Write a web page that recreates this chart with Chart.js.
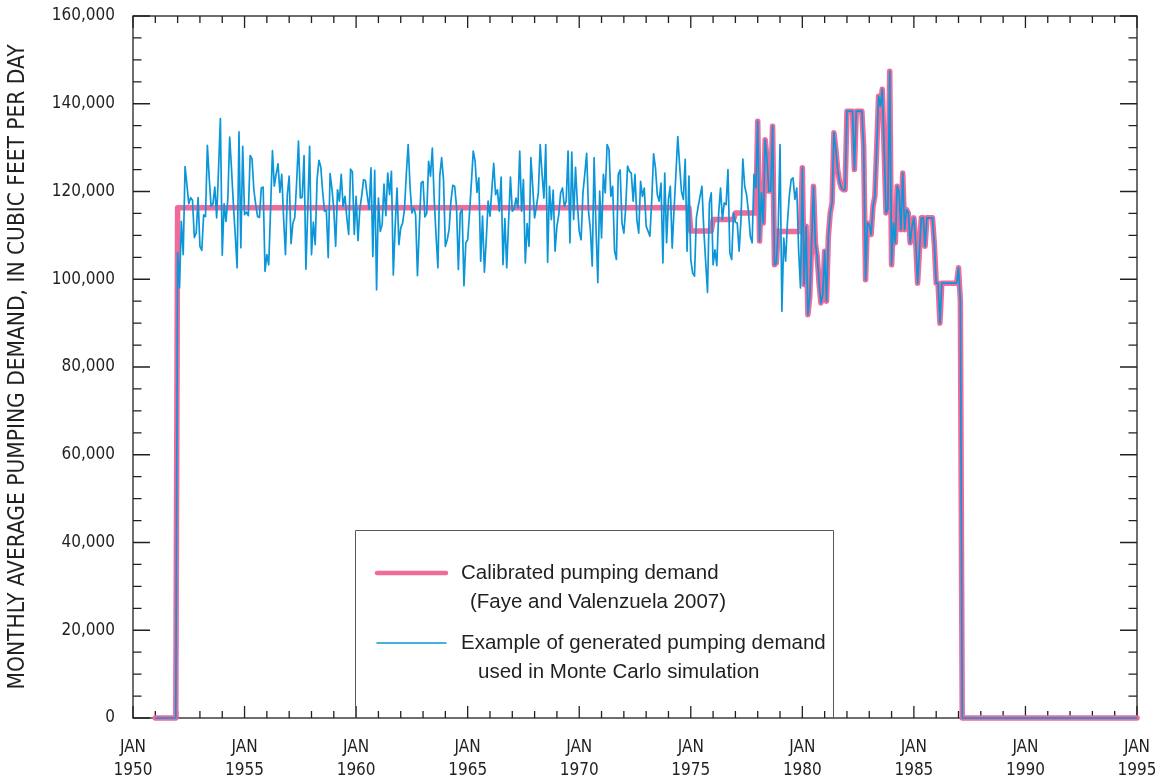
<!DOCTYPE html>
<html>
<head>
<meta charset="utf-8">
<script src="https://cdn.jsdelivr.net/npm/chart.js@4.4.1/dist/chart.umd.min.js"></script>
<style>
  html, body { margin: 0; padding: 0; background: #ffffff; }
  #wrap { width: 1155px; height: 779px; }
</style>
</head>
<body>
<div id="wrap"><canvas id="c" width="1155" height="779"></canvas></div>
<script>
// ---------------- DATA ----------------
const X_MIN = 1950, X_MAX = 1995;           // Jan 1950 .. Jan 1995
const Y_MIN = 0, Y_MAX = 160000;
const xTickYears = [1950, 1955, 1960, 1965, 1970, 1975, 1980, 1985, 1990, 1995];
const xTickMonth = 'JAN';
const SERIES_START = 1951;                   // first monthly value: Jan 1951

// Calibrated pumping demand: constant runs [value, number of months], Jan 1951 .. Dec 1977
const calibratedRunsBefore1978 = [[0, 12], [116300, 276], [111000, 12], [113600, 12], [115100, 12]];
// Calibrated monthly values 1978 (the generated series follows it this year)
const calibrated1978 = [136000, 108700, 119700, 112800, 131800, 127300, 120100, 120100, 134900, 103300, 103700, 111000];
// Calibrated 1979: constant run
const calibratedRun1979 = [110900, 12];
// Jan 1980 .. Feb 1987: both series identical
const shared1980to1987 = [
  125400, 98800, 112100, 91900, 96100, 108300, 121200, 108300, 105200, 99100, 94600, 96500,
  106400, 95000, 109800, 115100, 117400, 133400, 129600, 125000, 122300, 120800, 120400, 120400,
  138300, 138300, 138300, 138300, 125000, 138300, 138300, 138300, 138300, 130000, 99900, 112800,
  112500, 110200, 116600, 118900, 130000, 141700, 139400, 143300, 129600, 115100, 115900, 147400,
  103300, 112800, 108300, 121200, 120000, 111300, 124200, 111300, 115900, 115100, 108300, 112000,
  114000, 108300, 99100, 106700, 114000, 114000, 107500, 114000, 114000, 114000, 114000, 108000,
  99100, 99100, 90000, 99100, 99100, 99100, 99100, 99100, 99100, 99100, 99100, 99100,
  102600, 95000
];
// Mar 1987 .. Jan 1995: zero
const zeroRunAfter = [0, 95];

// Example of generated pumping demand, Jan 1952 .. Dec 1977 (monthly)
const generated1952to1977 = [
  106000, 98000, 113200, 105600, 125700, 121500, 117200, 118600, 118000, 109500,
  110600, 118600, 107500, 106600, 114700, 114300, 130500, 123000, 116600, 117200,
  121000, 114000, 125000, 136600, 105500, 117200, 113200, 118200, 132400, 125000,
  117000, 110000, 102600, 133600, 107200, 130300, 114700, 115300, 114500, 128200,
  127500, 120400, 117000, 114300, 114100, 120800, 121000, 101800, 105600, 103300,
  116000, 129300, 121200, 124000, 126300, 119800, 123900, 114000, 105600, 119300,
  123500, 108100, 112800, 114000, 122000, 131500, 118500, 118700, 128200, 102300,
  116000, 130300, 105600, 113000, 107900, 122700, 127100, 125600, 120000, 115500,
  115700, 104900, 124100, 120600, 115900, 107500, 120400, 117800, 123900, 116600,
  118900, 114000, 110200, 125100, 124500, 110200, 118900, 108800, 116000, 119000,
  122700, 122500, 119000, 115900, 125400, 105200, 124800, 97600,
  118500, 110900, 112500, 121700, 114500, 124200, 119300, 124600, 101000, 112000,
  120800, 107900, 111700, 112800, 115900, 124000, 130700, 121200, 115100, 116300,
  114700, 100800, 112000, 122000, 122300, 114200, 115100, 126900, 123500, 129900,
  118200, 110000, 102600, 123500, 127700, 122700, 107500, 109000, 111300, 117800,
  121400, 121200, 116600, 102200, 115100, 115900, 98500, 108300, 109000, 115100,
  122000, 129200, 126900, 119800, 123100, 104100, 114400, 101600, 109000, 117800,
  114400, 120400, 126400, 119300, 120400, 115500, 123300, 103300, 113800, 102600,
  113000, 123300, 115500, 116000, 118500, 116300, 129200, 115500, 122700, 103700,
  112700, 107500, 127700, 121000, 114000, 116600, 119700, 130700, 124000, 118500,
  130700, 103900, 121200, 113600, 120300, 106400, 112100, 114700, 119700, 120800,
  116600, 117800, 129200, 108300, 129000, 113600, 125500, 117200, 110900, 109000,
  119700, 124000, 128700, 115500, 111300, 103000, 127700, 112000, 99200, 120100,
  109400, 123900, 119700, 130700, 129600, 118900, 121200,
  106400, 104500, 123900, 124900, 112800, 110500, 116300, 125800, 124600, 124200,
  117800, 123900, 113600, 110500, 122300, 118900, 120800, 112100, 111000, 109800,
  118000, 128600, 125400, 119300, 117800, 121900, 103700, 124200, 108300, 118200,
  121200, 107100, 115900, 124000, 132500, 126000, 120000, 118200, 127300, 106400,
  123500, 104500, 101400, 100700, 114000, 116600, 118900, 121200, 111300, 104000,
  97000, 117400, 119700, 103300, 106700, 103100, 115100, 120800, 113600, 117400,
  117000, 125000, 106000, 104500, 115100, 113000, 112800, 106400, 113600, 127400,
  121200, 119300, 115500, 109800, 108300, 123900, 120800
];
// Generated 1979 (monthly)
const generated1979 = [130700, 92700, 109400, 104100, 113000, 119000, 122700, 123100, 118200, 120800, 106700, 98000];
// Generated 1951: zero
const generatedRun1951 = [0, 12];

const seriesLabels = ['Calibrated pumping demand', 'Example of generated pumping demand'];
const legendLines = [
  ['Calibrated pumping demand', '(Faye and Valenzuela 2007)'],
  ['Example of generated pumping demand', 'used in Monte Carlo simulation']
];
const yAxisTitle = 'MONTHLY AVERAGE PUMPING DEMAND, IN CUBIC FEET PER DAY';

// ------------- build monthly tables from the arrays -------------
function expandRun(run) { return Array(run[1]).fill(run[0]); }
let calibratedValues = [];
calibratedRunsBefore1978.forEach(r => { calibratedValues = calibratedValues.concat(expandRun(r)); });
calibratedValues = calibratedValues.concat(calibrated1978, expandRun(calibratedRun1979), shared1980to1987, expandRun(zeroRunAfter));

const generatedValues = [].concat(expandRun(generatedRun1951), generated1952to1977, calibrated1978,
  generated1979, shared1980to1987, expandRun(zeroRunAfter));

const toPoints = vals => vals.map((v, i) => ({ x: SERIES_START + i / 12, y: v }));

// ---------------- STYLE ----------------
const INK = '#231f20';
const PINK = '#ef6b9c';
const BLUE = '#0a96d8';
const NARROW = '"DejaVu Sans Condensed", "Liberation Sans", sans-serif';
const REGULAR = '"Liberation Sans", Arial, sans-serif';

const frameAndTicks = {
  id: 'frameAndTicks',
  beforeDatasetsDraw(chart) {
    const { ctx, chartArea: a, scales: { x, y } } = chart;
    ctx.save();
    ctx.strokeStyle = INK;
    ctx.lineWidth = 1.3;
    ctx.strokeRect(a.left, a.top, a.right - a.left, a.bottom - a.top);
    ctx.beginPath();
    for (let yr = X_MIN; yr <= X_MAX; yr++) {
      const px = x.getPixelForValue(yr);
      const len = yr % 5 === 0 ? 12 : 7;
      ctx.moveTo(px, a.bottom); ctx.lineTo(px, a.bottom - len);
      ctx.moveTo(px, a.top); ctx.lineTo(px, a.top + len);
    }
    for (let v = Y_MIN; v <= Y_MAX; v += 5000) {
      const py = y.getPixelForValue(v);
      const len = v % 20000 === 0 ? 17 : 8.5;
      ctx.moveTo(a.left, py); ctx.lineTo(a.left + len, py);
      ctx.moveTo(a.right, py); ctx.lineTo(a.right - len, py);
    }
    ctx.stroke();
    // legend box
    ctx.strokeStyle = '#58595b';
    ctx.lineWidth = 1;
    ctx.beginPath();
    ctx.moveTo(355.5, a.bottom); ctx.lineTo(355.5, 530.5); ctx.lineTo(833.5, 530.5); ctx.lineTo(833.5, a.bottom);
    ctx.stroke();
    ctx.restore();
  },
  afterDatasetsDraw(chart) {
    const { ctx } = chart;
    const ds = chart.data.datasets;
    ctx.save();
    const rows = [
      { lineY: 573, w: 4.5, color: ds[0].borderColor, text: legendLines[0], tx: [461, 470], ty: [573, 602] },
      { lineY: 643, w: 1.5, color: ds[1].borderColor, text: legendLines[1], tx: [461, 478], ty: [643, 672] }
    ];
    rows.forEach(r => {
      ctx.strokeStyle = r.color; ctx.lineWidth = r.w; ctx.lineCap = 'round';
      ctx.beginPath(); ctx.moveTo(377, r.lineY); ctx.lineTo(446, r.lineY); ctx.stroke();
      ctx.fillStyle = INK;
      ctx.font = '20.5px ' + REGULAR;
      ctx.textBaseline = 'middle';
      ctx.textAlign = 'left';
      r.text.forEach((t, i) => ctx.fillText(t, r.tx[i], r.ty[i]));
    });
    ctx.restore();
  }
};

new Chart(document.getElementById('c'), {
  type: 'line',
  data: {
    datasets: [
      {
        label: seriesLabels[0],
        data: toPoints(calibratedValues),
        borderColor: PINK,
        borderWidth: 5.5,
        pointRadius: 0,
        tension: 0,
        borderJoinStyle: 'round',
        borderCapStyle: 'round',
        clip: 8,
        order: 2
      },
      {
        label: seriesLabels[1],
        data: toPoints(generatedValues),
        borderColor: BLUE,
        borderWidth: 1.7,
        pointRadius: 0,
        tension: 0,
        borderJoinStyle: 'round',
        clip: 8,
        order: 1
      }
    ]
  },
  options: {
    responsive: false,
    animation: false,
    devicePixelRatio: 1,
    layout: { padding: { top: 16, right: 18, left: 0, bottom: 0 } },
    plugins: { legend: { display: false }, tooltip: { enabled: false } },
    scales: {
      x: {
        type: 'linear',
        min: X_MIN, max: X_MAX,
        grid: { display: false, drawTicks: false },
        border: { display: false },
        afterBuildTicks: s => { s.ticks = xTickYears.map(v => ({ value: v })); },
        ticks: {
          autoSkip: false, maxRotation: 0, padding: 19,
          color: INK,
          font: { family: NARROW, size: 17, lineHeight: 1.3 },
          callback: v => [xTickMonth, String(v)]
        },
        afterFit: s => { s.height = 61; s.paddingLeft = 0; s.paddingRight = 0; }
      },
      y: {
        min: Y_MIN, max: Y_MAX,
        grid: { display: false, drawTicks: false },
        border: { display: false },
        ticks: {
          stepSize: 20000, autoSkip: false, padding: 18,
          color: INK,
          font: { family: NARROW, size: 17 },
          callback: v => v.toLocaleString('en-US')
        },
        title: {
          display: true, text: yAxisTitle, color: INK,
          font: { family: NARROW, size: 22.5 },
          padding: { top: 5, bottom: 0 }
        },
        afterFit: s => { s.width = 133; s.paddingTop = 0; s.paddingBottom = 0; }
      }
    }
  },
  plugins: [frameAndTicks]
});
</script>
</body>
</html>
